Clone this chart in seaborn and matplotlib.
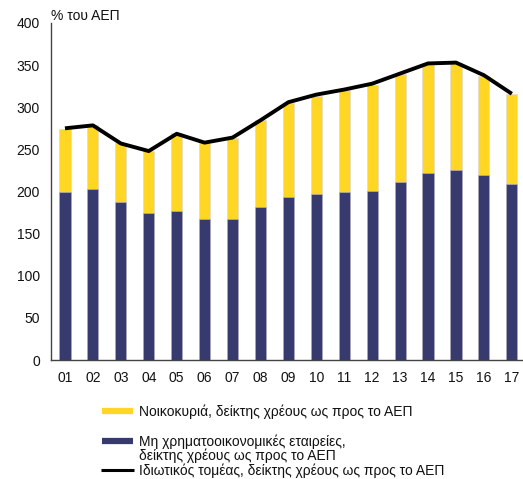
import matplotlib
matplotlib.use("Agg")
import matplotlib.pyplot as plt
from matplotlib.lines import Line2D
import seaborn as sns
import numpy as np
import pandas as pd

years = ["01", "02", "03", "04", "05", "06", "07", "08", "09",
         "10", "11", "12", "13", "14", "15", "16", "17"]
nfc = [199, 203, 187.5, 175, 177, 167, 167, 181.5, 193,
       196.5, 200, 200.5, 211.5, 222, 225.5, 219, 209]
households = [75, 75.5, 69.5, 73, 92, 91, 97, 103.5, 112,
              117, 120, 126.5, 128, 130, 126.5, 118, 106.5]
private = [275, 278.5, 257, 248, 268.5, 258, 264, 284.5, 306,
           315, 321, 328, 340, 352, 353, 338, 316]
yticks = [0, 50, 100, 150, 200, 250, 300, 350, 400]

YELLOW = "#FFD623"
NAVY = "#363A6F"
FS = 10

sns.set_style("white")
plt.rcParams["font.family"] = ["Liberation Sans", "DejaVu Sans"]

df = pd.DataFrame({"year": years, "nfc": nfc, "hh": households,
                   "private": private})
df["total"] = df["nfc"] + df["hh"]

fig = plt.figure(figsize=(5.23, 4.79), dpi=100)
W, H = 523, 479
ax = fig.add_axes([51 / W, 1 - 360 / H, (523 - 51) / W, (360 - 23) / H])

sns.barplot(data=df, x="year", y="total", color=YELLOW, width=0.4,
            saturation=1, edgecolor="#d8d8e4", linewidth=0.4, ax=ax)
sns.barplot(data=df, x="year", y="nfc", color=NAVY, width=0.4,
            saturation=1, edgecolor="#b8b8d0", linewidth=0.4, ax=ax)
sns.lineplot(x=np.arange(len(years)), y=df["private"], color="black",
             linewidth=2.8, ax=ax, solid_capstyle="butt")

ax.set_xlim(-0.5, 16.4)
ax.set_ylim(0, 400)
ax.set_yticks(yticks)
ax.set_yticklabels([str(v) for v in yticks])
ax.set_xlabel("")
ax.set_ylabel("")
ax.tick_params(axis="both", length=0, labelsize=FS, colors="#111111")
ax.tick_params(axis="y", pad=8)
ax.tick_params(axis="x", pad=8)
for s in ["top", "right"]:
    ax.spines[s].set_visible(False)
for s in ["left", "bottom"]:
    ax.spines[s].set_color("#444444")
    ax.spines[s].set_linewidth(1.0)

fig.text(51 / W, 1 - 16 / H, "% του ΑΕΠ", fontsize=FS, va="center", ha="left",
         color="#111111")

# legend drawn manually
def fy(y):
    return 1 - y / H

fig.add_artist(Line2D([102 / W, 133 / W], [fy(411), fy(411)], color=YELLOW,
                      linewidth=4.5, solid_capstyle="butt"))
fig.add_artist(Line2D([102 / W, 133 / W], [fy(440.5), fy(440.5)], color=NAVY,
                      linewidth=4.5, solid_capstyle="butt"))
fig.add_artist(Line2D([101 / W, 134 / W], [fy(469.5), fy(469.5)], color="black",
                      linewidth=2.2, solid_capstyle="butt"))
fig.text(139 / W, fy(411.5), "Νοικοκυριά, δείκτης χρέους ως προς το ΑΕΠ",
         fontsize=FS, va="center", ha="left", color="#111111")
fig.text(139 / W, fy(441.5), "Μη χρηματοοικονομικές εταιρείες,",
         fontsize=FS, va="center", ha="left", color="#111111")
fig.text(139 / W, fy(456), "δείκτης χρέους ως προς το ΑΕΠ",
         fontsize=FS, va="center", ha="left", color="#111111")
fig.text(139 / W, fy(470.5), "Ιδιωτικός τομέας, δείκτης χρέους ως προς το ΑΕΠ",
         fontsize=FS, va="center", ha="left", color="#111111")

fig.savefig("out.png", dpi=100)
